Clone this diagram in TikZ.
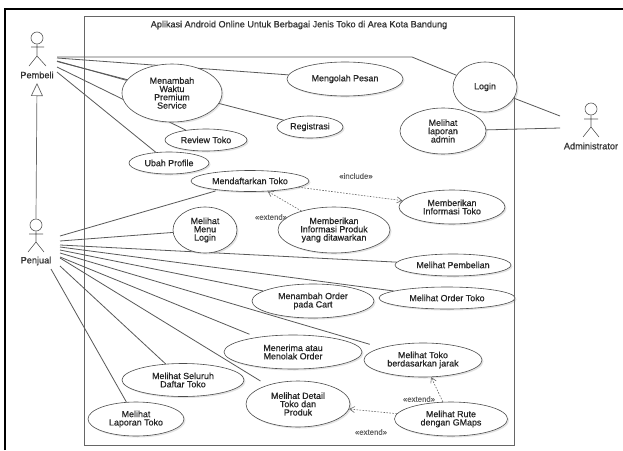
\documentclass[tikz,border=0pt]{standalone}
\usepackage{fontspec}
\setmainfont{Liberation Sans}[FakeBold=0.6]
\usetikzlibrary{shapes.geometric,shadows,backgrounds,arrows.meta}
\tikzset{
  uc/.style={ellipse,draw=black!70,line width=0.6pt,fill=white,inner sep=0pt,align=center,text=black!85,
    font=\fontsize{8.9}{8.3}\selectfont,
    drop shadow={opacity=0.22,shadow xshift=1.5pt,shadow yshift=-1.5pt}},
  link/.style={draw=black!65,line width=0.8pt},
  dep/.style={draw=black!60,line width=0.6pt,dash pattern=on 1.6pt off 1.4pt,-{Straight Barb[length=5pt,width=6pt,open]}},
  stereo/.style={font=\fontsize{7.8}{8}\selectfont,text=black!60,inner sep=0pt},
  actorlabel/.style={font=\fontsize{9.2}{9}\selectfont,text=black!80,inner sep=0pt},
  head/.style={circle,draw=black!65,line width=0.6pt,minimum size=12pt,inner sep=0pt},
  stick/.style={draw=black!65,line width=0.6pt},
  frame/.style={draw=black,line width=1.3pt},
  sysbox/.style={draw=black!60,line width=0.6pt,fill=white,inner sep=0pt,minimum width=430pt,minimum height=429pt,
    drop shadow={opacity=0.3,shadow xshift=1pt,shadow yshift=-1pt}},
  titlelabel/.style={font=\fontsize{9.1}{9}\selectfont,text=black!80,inner sep=0pt}
}
\begin{document}
\begin{tikzpicture}[x=1pt,y=-1pt]
\useasboundingbox (0,0) rectangle (623,450);
% use cases
\node[uc,minimum width=100pt,minimum height=58pt] (tambahwaktu) at (172,93) {Menambah\\Waktu\\Premium\\Service};
\node[uc,minimum width=116pt,minimum height=34pt] (mengolah) at (345,79) {Mengolah Pesan};
\node[uc,minimum width=66pt,minimum height=22pt] (registrasi) at (310,127) {Registrasi};
\node[uc,minimum width=82pt,minimum height=22pt] (review) at (206,140) {Review Toko};
\node[uc,minimum width=80pt,minimum height=22pt] (ubah) at (169,163) {Ubah Profile};
\node[uc,minimum width=118pt,minimum height=21pt] (daftar) at (250,181) {Mendaftarkan Toko};
\node[uc,minimum width=64pt,minimum height=50pt] (login) at (485,87) {Login};
\node[uc,minimum width=86pt,minimum height=46pt] (lapadmin) at (443,131) {Melihat\\laporan\\admin};
\node[uc,minimum width=106pt,minimum height=34pt] (infotoko) at (452,207) {Memberikan\\Informasi Toko};
\node[uc,minimum width=112pt,minimum height=46pt] (infoproduk) at (334,230) {Memberikan\\Informasi Produk\\yang ditawarkan};
\node[uc,minimum width=64pt,minimum height=46pt] (menu) at (205,230) {Melihat\\Menu\\Login};
\node[uc,minimum width=116pt,minimum height=22pt] (pembelian) at (453,265) {Melihat Pembelian};
\node[uc,minimum width=136pt,minimum height=22pt] (ordertoko) at (447,298) {Melihat Order Toko};
\node[uc,minimum width=122pt,minimum height=34pt] (cart) at (313,301) {Menambah Order\\pada Cart};
\node[uc,minimum width=138pt,minimum height=34pt] (terima) at (293,352) {Menerima atau\\Menolak Order};
\node[uc,minimum width=118pt,minimum height=34pt] (jarak) at (423,360) {Melihat Toko\\berdasarkan jarak};
\node[uc,minimum width=113pt,minimum height=34pt] (rute) at (451,419) {Melihat Rute\\dengan GMaps};
\node[uc,minimum width=104pt,minimum height=46pt] (detail) at (298,404) {Melihat Detail\\Toko dan\\Produk};
\node[uc,minimum width=122pt,minimum height=33pt] (seluruh) at (183,380) {Melihat Seluruh\\Daftar Toko};
\node[uc,minimum width=96pt,minimum height=34pt] (laporan) at (136,419) {Melihat\\Laporan Toko};
% actors
\node[head] (pembeli) at (37,38) {};
\node[head] (penjual) at (36,225) {};
\node[head] (admin) at (591,109) {};
\node[actorlabel] (lblpembeli) at (37,75) {Pembeli};
\node[actorlabel] (lblpenjual) at (36,261) {Penjual};
\node[actorlabel] (lbladmin) at (591,146) {Administrator};
\coordinate (pbhip) at (37,56); \coordinate (pbl) at (29,66); \coordinate (pbr) at (46,66);
\coordinate (pbal) at (31,47); \coordinate (pbar) at (44,47);
\coordinate (pjhip) at (36,242); \coordinate (pjl) at (28,252); \coordinate (pjr) at (44,252);
\coordinate (pjal) at (29,234); \coordinate (pjar) at (43,234);
\coordinate (adhip) at (591,127); \coordinate (adl) at (583,137); \coordinate (adr) at (599,137);
\coordinate (adal) at (584,119); \coordinate (adar) at (598,119);
\draw[stick] (pembeli.south) -- (pbhip) (pbl) -- (pbhip) -- (pbr) (pbal) -- (pbar);
\draw[stick] (penjual.south) -- (pjhip) (pjl) -- (pjhip) -- (pjr) (pjal) -- (pjar);
\draw[stick] (admin.south) -- (adhip) (adl) -- (adhip) -- (adr) (adal) -- (adar);
% title
\node[titlelabel] (title) at (299,25) {Aplikasi Android Online Untuk Berbagai Jenis Toko di Area Kota Bandung};
% stereotypes
\node[stereo] (s1) at (356,176) {«include»};
\node[stereo] (s2) at (271,217) {«extend»};
\node[stereo] (s3) at (419,399) {«extend»};
\node[stereo] (s4) at (371,432) {«extend»};
% ports
\coordinate (pb1) at (57,57); \coordinate (pbbend) at (412,57);
\coordinate (pb2) at (57,58); \coordinate (pb3) at (57,61); \coordinate (pb4) at (57,61.5);
\coordinate (pb5) at (57,67); \coordinate (pb6) at (57,72);
\coordinate (pj1) at (60,236); \coordinate (pj2) at (60,241); \coordinate (pj3) at (60,245);
\coordinate (pj4) at (60,247); \coordinate (pj5) at (60,250); \coordinate (pj6) at (60,253);
\coordinate (pj7) at (60,257); \coordinate (pj8) at (60,258); \coordinate (pj9) at (60,266);
\coordinate (pj10) at (51,269);
\coordinate (ad1) at (560,116); \coordinate (ad2) at (560,128);
\coordinate (gentip) at (37,83);
\begin{scope}[on background layer]
\fill[white] (0,0) rectangle (623,450);
\coordinate (fa) at (5,450); \coordinate (fb) at (5,9); \coordinate (fc) at (623,9);
\draw[frame] (fa) -- (fb) -- (fc);
\node[sysbox] (system) at (299,230.5) {};
\draw[link] (pb1) -- (pbbend) -- (login);
\draw[link] (pb2) -- (mengolah);
\draw[link] (pb3) -- (tambahwaktu);
\draw[link] (pb4) -- (registrasi);
\draw[link] (pb5) -- (review);
\draw[link] (pb6) -- (ubah);
\draw[link,shorten >=3pt] (pj1) -- (daftar);
\draw[link] (pj2) -- (menu);
\draw[link] (pj3) -- (pembelian);
\draw[link] (pj4) -- (ordertoko);
\draw[link] (pj5) -- (cart);
\draw[link,shorten >=12pt] (pj6) -- (jarak);
\draw[link,shorten >=8pt] (pj7) -- (terima);
\draw[link,shorten >=8pt] (pj8) -- (detail);
\draw[link] (pj9) -- (seluruh);
\draw[link] (pj10) -- (laporan);
\draw[link] (ad1) -- (login);
\draw[link] (ad2) -- (lapadmin);
\draw[draw=black!60,line width=0.7pt,-{Triangle[open,length=13pt,width=12pt]}] (penjual.north) -- (gentip);
\end{scope}
\draw[dep] (infoproduk) -- (daftar);
\draw[dep] (daftar) -- (infotoko);
\draw[dep] (rute) -- (jarak);
\draw[dep] (rute) -- (detail);
\end{tikzpicture}
\end{document}
